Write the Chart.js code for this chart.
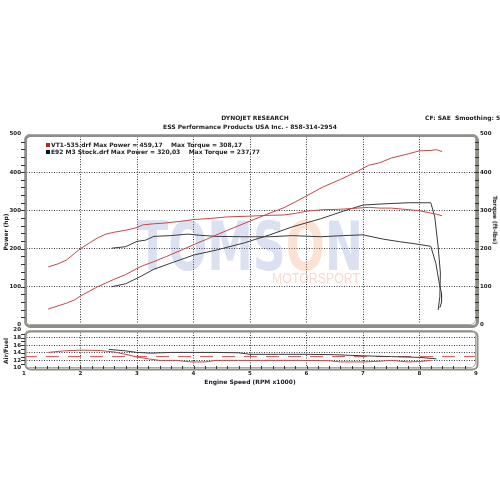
<!DOCTYPE html>
<html>
<head>
<meta charset="utf-8">
<script src="https://cdn.jsdelivr.net/npm/chart.js@4.4.1/dist/chart.umd.min.js"></script>
<style>
html, body { margin: 0; padding: 0; background: #fff; }
#wrap { position: relative; width: 500px; height: 500px; overflow: hidden; background: #fff;
        font-family: "DejaVu Sans", Verdana, sans-serif; font-weight: bold; color: #222; }
canvas { position: absolute; left: 0; top: 0; }
.t { position: absolute; font-size: 6px; line-height: 6px; white-space: pre; }
.rot { position: absolute; font-size: 6px; line-height: 6px; white-space: pre; }
.sw { position: absolute; width: 4px; height: 4px; }
</style>
</head>
<body>
<div id="wrap">
    <canvas id="powerChart" width="500" height="500"></canvas>
    <canvas id="afrChart" width="500" height="500"></canvas>

    <div class="t" style="left:0;width:510px;top:115px;text-align:center">DYNOJET RESEARCH</div>
    <div class="t" style="left:0;width:500px;top:124px;text-align:center">ESS Performance Products USA Inc. - 858-314-2954</div>
    <div class="t" style="left:425px;top:115px">CF: SAE  Smoothing: 5</div>

    <div class="sw" style="left:46px;top:143px;background:#c81e1e"></div>
    <div class="t" style="left:51px;top:142px">VT1-535.drf Max Power = 459,17    Max Torque = 308,17</div>
    <div class="sw" style="left:46px;top:150px;background:#111"></div>
    <div class="t" style="left:51px;top:149px">E92 M3 Stock.drf Max Power = 320,03    Max Torque = 237,77</div>

    <div class="rot" style="left:6px;top:232px;transform:translate(-50%,-50%) rotate(-90deg)">Power (hp)</div>
    <div class="rot" style="left:495px;top:220px;transform:translate(-50%,-50%) rotate(90deg)">Torque (ft-lbs)</div>
    <div class="rot" style="left:6px;top:351px;transform:translate(-50%,-50%) rotate(-90deg)">Air/Fuel</div>
    <div class="t" style="left:0;width:500px;top:379px;text-align:center">Engine Speed (RPM x1000)</div>
</div>

<script>
// ticks
const xTicks = [1, 2, 3, 4, 5, 6, 7, 8, 9];
const powerTicks = [0, 100, 200, 300, 400, 500];
const afrTicks = [10, 12, 14, 16, 18, 20];

// VT1-535 run (red)
const vt1Rpm = [1.43, 1.6, 1.75, 1.9, 2.0, 2.15, 2.3, 2.45, 2.6, 2.8, 3.0, 3.1, 3.3, 3.5, 3.8, 4.0, 4.3, 4.6,
                5.0, 5.3, 5.6, 5.8, 6.0, 6.3, 6.6, 6.9, 7.1, 7.3, 7.5, 7.8, 8.0, 8.2, 8.3, 8.4];
const vt1Hp = [42, 50, 57, 66, 76, 88, 100, 110, 120, 132, 148, 155, 166, 178, 197, 210, 229, 248,
               272, 290, 307, 322, 338, 362, 381, 402, 418, 425, 437, 448, 456, 457, 459, 454];
const vt1Tq = [152, 160, 170, 188, 200, 214, 228, 238, 243, 248, 255, 262, 265, 267, 272, 276, 279, 283,
               285, 287, 288, 292, 298, 302, 303, 306, 308, 306, 306, 302, 299, 293, 290, 286];

// E92 M3 stock run (black)
const e92HpRpm = [2.55, 2.8, 3.05, 3.3, 3.6, 4.0, 4.4, 4.9, 5.35, 5.75, 6.25, 6.65, 7.0, 7.35, 7.8, 8.2,
                  8.27, 8.33, 8.37, 8.36, 8.33];
const e92Hp = [100, 108, 126, 146, 162, 183, 196, 215, 236, 257, 278, 298, 314, 317, 320, 320,
               283, 205, 136, 74, 39];
const e92TqRpm = [2.55, 2.8, 3.0, 3.15, 3.3, 3.6, 3.9, 4.1, 4.4, 4.9, 5.35, 5.75, 6.25, 6.65, 7.0, 7.35,
                  7.65, 7.9, 8.2, 8.29, 8.35, 8.39, 8.39, 8.36];
const e92Tq = [201, 205, 219, 222, 232, 234, 238, 235, 232, 231, 231, 234, 231, 234, 236, 225,
               218, 213, 206, 161, 109, 83, 60, 45];

// air/fuel
const vt1AfrRpm = [1.43, 1.7, 2.0, 2.35, 2.6, 2.8, 3.0, 3.2, 3.4, 3.7, 3.95, 4.2, 4.4, 4.8, 5.2, 5.6,
                   6.0, 6.4, 6.6, 7.0, 7.2, 7.5, 7.8, 8.0, 8.2];
const vt1Afr = [14.1, 14.5, 14.7, 14.6, 14.2, 13.6, 12.9, 12.4, 12.0, 12.0, 11.6, 11.6, 12.0, 12.0, 12.0, 12.0,
                12.0, 11.9, 11.6, 11.6, 11.7, 12.0, 11.6, 11.7, 12.0];
const e92AfrRpm = [2.5, 2.8, 3.0, 3.25, 3.6, 4.0, 4.4, 4.8, 5.0, 5.5, 6.0, 6.5, 7.0, 7.5, 8.0, 8.3];
const e92Afr = [14.9, 14.5, 14.1, 13.9, 14.1, 14.1, 14.1, 14.0, 13.6, 13.6, 13.6, 13.5, 13.2, 13.0, 12.8, 12.4];
const afrTargetX = [1, 9];
const afrTargetY = [13, 13];

const RED = '#c84646';
const BLACK = '#3a3a3a';
const tickFont = { family: 'DejaVu Sans', size: 5.5, weight: 'bold' };

const pts = (xs, ys) => xs.map((x, i) => ({ x: x, y: ys[i] }));
const setTicks = list => scale => { scale.ticks = list.map(v => ({ value: v })); };
const gridColor = (lo, hi) => c => (c.tick && (c.tick.value === lo || c.tick.value === hi)) ? 'rgba(0,0,0,0)' : '#3c3c3c';
const GRID_DASH = [1, 1.5];

/* ── panel frame with minor ticks ── */
function framePlugin(opts) {
    return {
        id: 'frame',
        afterDatasetsDraw(chart) {
            const { ctx, chartArea: a, scales } = chart;
            ctx.save();
            // shadow
            ctx.strokeStyle = '#8e8e86';
            ctx.lineWidth = opts.shadow;
            ctx.beginPath();
            ctx.roundRect(a.left + 1.5, a.top + 1.5, a.right - a.left, a.bottom - a.top, 5);
            ctx.stroke();
            ctx.strokeStyle = '#a8a8a8';
            ctx.lineWidth = 1;
            ctx.beginPath();
            ctx.roundRect(a.left + 0.5, a.top + 0.5, a.right - a.left - 1, a.bottom - a.top - 1, 5);
            ctx.stroke();

            ctx.strokeStyle = '#333';
            ctx.beginPath();
            const ys = scales.y;
            for (let v = ys.min; v <= ys.max + 1e-9; v += opts.yStep) {
                const py = Math.round(ys.getPixelForValue(v)) + 0.5;
                if (py < a.top + 3 || py > a.bottom - 3) continue;
                ctx.moveTo(a.left - 3, py); ctx.lineTo(a.left + 1, py);
                if (opts.rightTicks) { ctx.moveTo(a.right - 1, py); ctx.lineTo(a.right + 3, py); }
            }
            if (opts.xStep) {
                const xs = scales.x;
                for (let v = xs.min; v <= xs.max + 1e-9; v += opts.xStep) {
                    const px = Math.round(xs.getPixelForValue(v)) + 0.5;
                    if (px < a.left + 3 || px > a.right - 3) continue;
                    ctx.moveTo(px, a.bottom - 2); ctx.lineTo(px, a.bottom + 1);
                }
            }
            ctx.stroke();
            ctx.restore();
        }
    };
}

/* ── watermark ── */
const watermark = {
    id: 'watermark',
    beforeDatasetsDraw(chart) {
        const ctx = chart.ctx;
        ctx.save();
        ctx.font = 'bold 68px "DejaVu Sans"';
        const word = 'TOMSON';
        const w = ctx.measureText(word).width;
        ctx.translate(137, 270);
        ctx.scale(226 / w, 1);
        const blue = 'rgba(110,130,195,0.24)';
        ctx.fillStyle = blue;
        ctx.fillText('TOMS', 0, 0);
        let off = ctx.measureText('TOMS').width;
        ctx.fillStyle = 'rgba(245,160,110,0.3)';
        ctx.fillText('O', off, 0);
        off += ctx.measureText('O').width;
        ctx.fillStyle = blue;
        ctx.fillText('N', off, 0);
        ctx.restore();

        ctx.save();
        ctx.font = '15px "Liberation Sans"';
        const m = ctx.measureText('MOTORSPORT').width;
        ctx.translate(272, 283);
        ctx.scale(88 / m, 1);
        ctx.fillStyle = 'rgba(240,160,130,0.4)';
        ctx.fillText('MOTORSPORT', 0, 0);
        ctx.restore();
    }
};

const line = (label, data, color, axis) => ({
    label: label, data: data, yAxisID: axis,
    borderColor: color, borderWidth: 1, pointRadius: 0, showLine: true, tension: 0, fill: false
});

new Chart(document.getElementById('powerChart'), {
    type: 'scatter',
    data: {
        datasets: [
            line('VT1-535 Power', pts(vt1Rpm, vt1Hp), RED, 'y'),
            line('VT1-535 Torque', pts(vt1Rpm, vt1Tq), RED, 'y2'),
            line('E92 M3 Stock Power', pts(e92HpRpm, e92Hp), BLACK, 'y'),
            line('E92 M3 Stock Torque', pts(e92TqRpm, e92Tq), BLACK, 'y2')
        ]
    },
    options: {
        responsive: false,
        animation: false,
        events: [],
        layout: { padding: { top: 134, bottom: 175, left: 0, right: 0 } },
        scales: {
            x: {
                type: 'linear', min: 1, max: 9,
                afterBuildTicks: setTicks(xTicks),
                ticks: { display: false },
                grid: { color: gridColor(1, 9), drawTicks: false, lineWidth: 1 },
                border: { display: false, dash: GRID_DASH },
                afterFit: s => { s.height = 0; }
            },
            y: {
                position: 'left', min: 0, max: 500,
                afterBuildTicks: setTicks(powerTicks),
                ticks: { font: tickFont, color: '#222', padding: 3, autoSkip: false },
                grid: { color: gridColor(0, 500), drawTicks: false },
                border: { display: false, dash: GRID_DASH },
                afterFit: s => { s.width = 24; }
            },
            y2: {
                position: 'right', min: 0, max: 500,
                afterBuildTicks: setTicks(powerTicks),
                ticks: { font: tickFont, color: '#222', padding: 4, autoSkip: false },
                grid: { drawOnChartArea: false, drawTicks: false },
                border: { display: false },
                afterFit: s => { s.width = 24; }
            }
        },
        plugins: { legend: { display: false }, tooltip: { enabled: false } }
    },
    plugins: [watermark, framePlugin({ yStep: 20, rightTicks: true, shadow: 3 })]
});

new Chart(document.getElementById('afrChart'), {
    type: 'scatter',
    data: {
        datasets: [
            line('VT1-535 A/F', pts(vt1AfrRpm, vt1Afr), RED, 'y'),
            line('E92 M3 Stock A/F', pts(e92AfrRpm, e92Afr), BLACK, 'y'),
            Object.assign(line('Target', pts(afrTargetX, afrTargetY), '#d85050', 'y'), { borderDash: [13, 9] })
        ]
    },
    options: {
        responsive: false,
        animation: false,
        events: [],
        layout: { padding: { top: 330, bottom: 120, left: 0, right: 24 } },
        scales: {
            x: {
                type: 'linear', min: 1, max: 9,
                afterBuildTicks: setTicks(xTicks),
                ticks: { font: tickFont, color: '#222', padding: 2, maxRotation: 0, autoSkip: false },
                grid: { color: gridColor(1, 9), drawTicks: false },
                border: { display: false, dash: GRID_DASH },
                afterFit: s => { s.height = 12; }
            },
            y: {
                position: 'left', min: 10, max: 20,
                afterBuildTicks: setTicks(afrTicks),
                ticks: { font: tickFont, color: '#222', padding: 3, autoSkip: false },
                grid: { color: gridColor(10, 20), drawTicks: false },
                border: { display: false, dash: GRID_DASH },
                afterFit: s => { s.width = 24; }
            }
        },
        plugins: { legend: { display: false }, tooltip: { enabled: false } }
    },
    plugins: [framePlugin({ yStep: 1, rightTicks: false, xStep: 0.2, shadow: 2 })]
});
</script>
</body>
</html>
